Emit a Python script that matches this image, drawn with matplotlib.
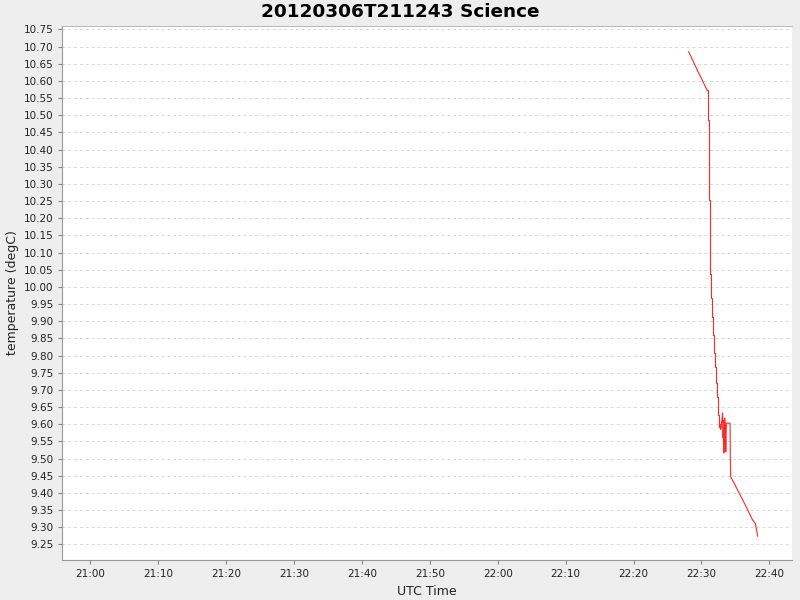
import matplotlib
matplotlib.use("Agg")
import matplotlib.pyplot as plt
import matplotlib.dates as mdates
import numpy as np
import pandas as pd

title = "20120306T211243 Science"
x_label = "UTC Time"
y_label = "temperature (degC)"

times = ["22:28:07", "22:29:24", "22:30:50", "22:30:55", "22:31:04", "22:31:14",
         "22:31:25", "22:31:33", "22:31:43", "22:31:51", "22:32:00", "22:32:09",
         "22:32:18", "22:32:29", "22:32:38", "22:32:47", "22:32:51", "22:32:56",
         "22:33:07", "22:33:11", "22:33:16", "22:33:18", "22:33:25", "22:33:31",
         "22:33:35", "22:33:40", "22:34:13", "22:34:15", "22:34:18", "22:35:20",
         "22:36:19", "22:37:32", "22:37:56", "22:38:17"]
temps = [10.685, 10.631, 10.573, 10.486, 10.253, 10.037,
         9.967, 9.913, 9.860, 9.807, 9.767, 9.720,
         9.680, 9.627, 9.593, 9.600, 9.585, 9.600,
         9.633, 9.560, 9.610, 9.516, 9.618, 9.590,
         9.520, 9.603, 9.603, 9.505, 9.447, 9.408,
         9.370, 9.321, 9.311, 9.274]

# the rapid descent (22:30:50 - 22:32:38) is recorded as stepped readings
step_start, step_end = 2, 14

t = pd.to_datetime(["2012-03-06 " + s for s in times])
temps = np.array(temps)

fig = plt.figure(figsize=(8, 6), dpi=100)
fig.patch.set_facecolor("#EEEEEE")
ax = fig.add_axes([0.0779, 0.0662, 0.99 - 0.0779, 0.957 - 0.0662])
ax.set_facecolor("white")

col = "#FF2828"
ax.plot(t[:step_start + 1], temps[:step_start + 1], color=col, lw=0.8)
ax.plot(t[step_start:step_end + 1], temps[step_start:step_end + 1], color=col, lw=0.8,
        drawstyle="steps-post")
ax.plot(t[step_end:], temps[step_end:], color=col, lw=0.8)

ax.set_xlim(pd.Timestamp("2012-03-06 20:55:53"), pd.Timestamp("2012-03-06 22:43:20"))
ax.set_ylim(9.2037, 10.7605)
ax.xaxis.set_major_locator(mdates.MinuteLocator(byminute=range(0, 60, 10)))
ax.xaxis.set_major_formatter(mdates.DateFormatter("%H:%M"))
ax.set_yticks(np.round(np.arange(9.25, 10.751, 0.05), 2))
ax.yaxis.set_major_formatter(matplotlib.ticker.FormatStrFormatter("%.2f"))

ax.grid(axis="y", color="#D8D8D8", linestyle=(0, (3, 3)), linewidth=0.7)
ax.grid(axis="x", visible=False)
for s in ["left", "bottom"]:
    ax.spines[s].set_color("#999999")
ax.spines["right"].set_visible(False)
ax.spines["top"].set_color("#BBBBBB")
ax.tick_params(axis="both", colors="#888888", labelcolor="#222222", labelsize=7.5,
               length=3, width=0.8)

ax.set_xlabel(x_label, fontsize=9, color="#222222", labelpad=4)
ax.set_ylabel(y_label, fontsize=9, color="#222222", labelpad=4)
ax.yaxis.set_label_coords(-0.059, 0.5)
fig.suptitle(title, fontsize=13.3, fontweight="bold", y=0.995)

fig.savefig("out.png", dpi=100, facecolor=fig.get_facecolor())
